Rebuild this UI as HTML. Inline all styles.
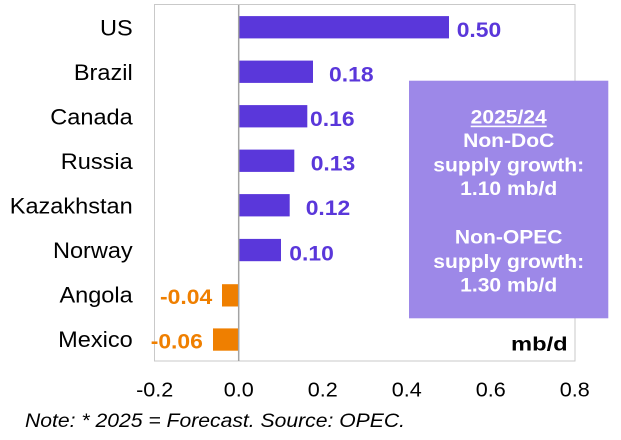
<!DOCTYPE html>
<html>
<head>
<meta charset="utf-8">
<style>
  html, body { margin: 0; padding: 0; background: #ffffff; }
  body { width: 621px; height: 440px; overflow: hidden; }
  svg { display: block; }
  text { font-family: "Liberation Sans", Arial, sans-serif; }
</style>
</head>
<body>
<svg width="621" height="440" viewBox="0 0 621 440" xmlns="http://www.w3.org/2000/svg">
  <!-- plot frame -->
  <rect x="154.5" y="4.5" width="420.5" height="356.5" fill="#ffffff" stroke="#c9c9c9" stroke-width="1"/>

  <!-- bars -->
  <g fill="#5a37da">
    <rect x="239" y="16.1" width="210" height="22.3"/>
    <rect x="239" y="60.6" width="74" height="22.3"/>
    <rect x="239" y="105.1" width="68.3" height="22.3"/>
    <rect x="239" y="149.6" width="55.3" height="22.3"/>
    <rect x="239" y="194.1" width="50.7" height="22.3"/>
    <rect x="239" y="238.9" width="42" height="22.3"/>
  </g>
  <g fill="#ef7f00">
    <rect x="222" y="284.2" width="17" height="22.3"/>
    <rect x="213" y="328.4" width="26" height="22.3"/>
  </g>

  <!-- zero line -->
  <line x1="238.7" y1="5" x2="238.7" y2="361" stroke="#a3a3a3" stroke-width="1.5"/>

  <!-- category labels -->
  <g font-size="22" fill="#000" text-anchor="end">
    <text transform="translate(132.7,35.3) scale(1.07,1)">US</text>
    <text transform="translate(132.7,79.8) scale(1.07,1)">Brazil</text>
    <text transform="translate(132.7,124.3) scale(1.07,1)">Canada</text>
    <text transform="translate(132.7,168.8) scale(1.07,1)">Russia</text>
    <text transform="translate(132.7,213.3) scale(1.07,1)">Kazakhstan</text>
    <text transform="translate(132.7,257.8) scale(1.07,1)">Norway</text>
    <text transform="translate(132.7,302.3) scale(1.07,1)">Angola</text>
    <text transform="translate(132.7,346.8) scale(1.07,1)">Mexico</text>
  </g>

  <!-- value labels -->
  <g font-size="21.4" font-weight="bold" fill="#5a37da">
    <text transform="translate(456.7,36.9) scale(1.07,1)">0.50</text>
    <text transform="translate(329,81.4) scale(1.07,1)">0.18</text>
    <text transform="translate(310,125.9) scale(1.07,1)">0.16</text>
    <text transform="translate(310.7,170.4) scale(1.07,1)">0.13</text>
    <text transform="translate(305.7,214.9) scale(1.07,1)">0.12</text>
    <text transform="translate(289.3,260.6) scale(1.07,1)">0.10</text>
  </g>
  <g font-size="21.4" font-weight="bold" fill="#ef7f00">
    <text transform="translate(160,303.8) scale(1.07,1)">-0.04</text>
    <text transform="translate(150.7,348.5) scale(1.07,1)">-0.06</text>
  </g>

  <!-- info box -->
  <rect x="409" y="80.7" width="199.3" height="237.6" fill="#9d88e8"/>
  <g font-size="19.5" font-weight="bold" fill="#ffffff" text-anchor="middle">
    <text transform="translate(508.7,123.3) scale(1.08,1)">2025/24</text>
    <text transform="translate(508.7,146.9) scale(1.08,1)">Non-DoC</text>
    <text transform="translate(508.7,171.3) scale(1.08,1)">supply growth:</text>
    <text transform="translate(508.7,195) scale(1.08,1)">1.10 mb/d</text>
    <text transform="translate(508.7,243.3) scale(1.08,1)">Non-OPEC</text>
    <text transform="translate(508.7,267.8) scale(1.08,1)">supply growth:</text>
    <text transform="translate(508.7,291.7) scale(1.08,1)">1.30 mb/d</text>
  </g>
  <rect x="470.7" y="125.6" width="76" height="1.6" fill="#ffffff"/>

  <!-- unit label -->
  <text x="567.7" y="350.7" font-size="19.5" font-weight="bold" fill="#000" text-anchor="end" textLength="56.7" lengthAdjust="spacingAndGlyphs">mb/d</text>

  <!-- x tick labels -->
  <g font-size="20" fill="#000" text-anchor="middle">
    <text transform="translate(154.7,396.7) scale(1.08,1)">-0.2</text>
    <text transform="translate(238.7,396.7) scale(1.08,1)">0.0</text>
    <text transform="translate(322.7,396.7) scale(1.08,1)">0.2</text>
    <text transform="translate(406.7,396.7) scale(1.08,1)">0.4</text>
    <text transform="translate(490.7,396.7) scale(1.08,1)">0.6</text>
    <text transform="translate(574.7,396.7) scale(1.08,1)">0.8</text>
  </g>

  <!-- note -->
  <text transform="translate(25,426.8) scale(1.084,1)" font-size="19.5" font-style="italic" fill="#000">Note: * 2025 = Forecast. Source: OPEC.</text>
</svg>
</body>
</html>
